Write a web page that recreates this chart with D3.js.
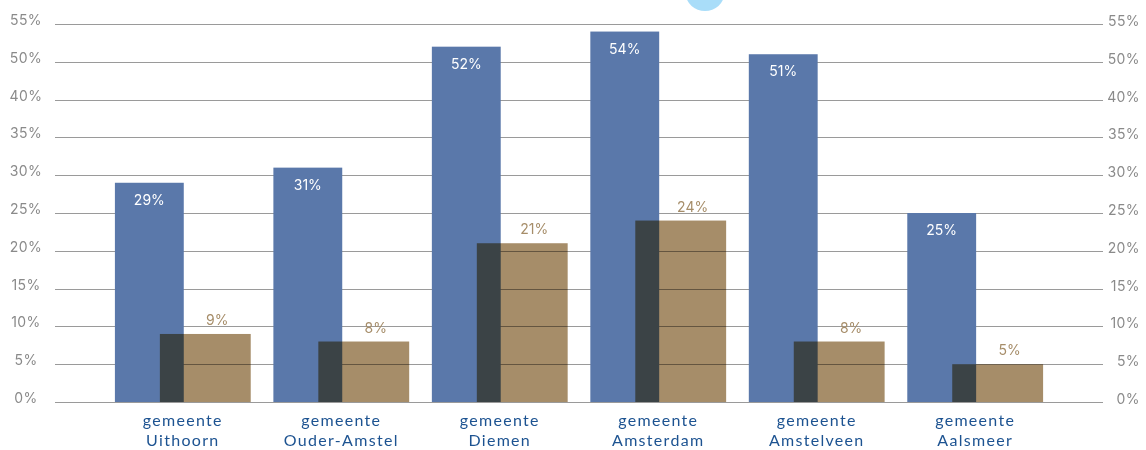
<!DOCTYPE html>
<html>
<head>
<meta charset="utf-8">
<script src="https://cdn.jsdelivr.net/npm/d3@7"></script>
<style>
  body { margin: 0; background: #fff; }
  svg { display: block; }
</style>
</head>
<body>
<div id="chart"></div>
<script>
// data
const places = ['Uithoorn', 'Ouder-Amstel', 'Diemen', 'Amsterdam', 'Amstelveen', 'Aalsmeer'];
const blueValues = [29, 31, 52, 54, 51, 25];
const tanValues = [9, 8, 21, 24, 8, 5];
const tickValues = [0, 5, 10, 15, 20, 25, 30, 35, 40, 50, 55];

const W = 1146, H = 450;
const space = { top: 24, right: 43, bottom: 48, left: 55 };
const w = W - space.left - space.right,
  h = H - space.top - space.bottom;

const numFont = 'Inter, "DejaVu Sans", sans-serif';

const svg = d3.select('#chart')
  .append('svg')
  .attr('width', W)
  .attr('height', H);

// decorative blob at the top
svg.append('ellipse')
  .attr('cx', 705)
  .attr('cy', -6)
  .attr('rx', 19)
  .attr('ry', 17)
  .style('fill', '#a9ddf9');

const g = svg.append('g')
  .attr('transform', `translate(${space.left}, ${space.top})`);

// x: one band per municipality
const x = d3.scaleBand()
  .domain(places)
  .range([0, w])
  .paddingInner(0.143)
  .paddingOuter(0.378);

// y: the axis skips 45%, so the scale is piecewise
const y = d3.scaleLinear()
  .domain([0, 40, 50, 55])
  .range([h, h * 0.2, h * 0.1, 0]);

// gridlines
g.append('g')
  .selectAll('line')
  .data(tickValues)
  .join('line')
  .attr('x1', 0)
  .attr('x2', w)
  .attr('y1', d => Math.round(y(d)) + 0.5)
  .attr('y2', d => Math.round(y(d)) + 0.5)
  .style('stroke', '#9a9a9a')
  .style('stroke-width', 1);

// axis labels left and right
const axisText = (sel) => sel
  .style('font-family', numFont)
  .style('font-size', '14px')
  .style('font-weight', 400)
  .style('fill', '#8a8a8a')
  .style('letter-spacing', '0.4px');

g.append('g')
  .selectAll('text')
  .data(tickValues)
  .join('text')
  .attr('x', -29)
  .attr('y', d => y(d) - 4)
  .attr('dy', '0.35em')
  .attr('text-anchor', 'middle')
  .text(d => d + '%')
  .call(axisText);

g.append('g')
  .selectAll('text')
  .data(tickValues)
  .join('text')
  .attr('x', w + 37)
  .attr('y', d => y(d) - 3)
  .attr('dy', '0.35em')
  .attr('text-anchor', 'end')
  .text(d => d + '%')
  .call(axisText);

const rows = places.map((p, i) => ({ place: p, blue: blueValues[i], tan: tanValues[i] }));
const bw = x.bandwidth();
const blueW = bw * 0.507,
  tanX = bw * 0.331;

// blue bars
g.append('g')
  .selectAll('rect')
  .data(rows)
  .join('rect')
  .attr('x', d => x(d.place))
  .attr('y', d => y(d.blue))
  .attr('width', blueW)
  .attr('height', d => h - y(d.blue))
  .style('fill', '#5a78aa');

// tan bars, multiplied over the blue
g.append('g')
  .selectAll('rect')
  .data(rows)
  .join('rect')
  .attr('x', d => x(d.place) + tanX)
  .attr('y', d => y(d.tan))
  .attr('width', bw - tanX)
  .attr('height', d => h - y(d.tan))
  .style('fill', '#a68d69')
  .style('mix-blend-mode', 'multiply');

// value labels
g.append('g')
  .selectAll('text')
  .data(rows)
  .join('text')
  .attr('x', d => x(d.place) + blueW / 2)
  .attr('y', d => y(d.blue) + 22)
  .attr('text-anchor', 'middle')
  .text(d => d.blue + '%')
  .style('font-family', numFont)
  .style('font-size', '14px')
  .style('fill', '#ffffff');

g.append('g')
  .selectAll('text')
  .data(rows)
  .join('text')
  .attr('x', d => x(d.place) + (blueW + bw) / 2)
  .attr('y', d => y(d.tan) - 9)
  .attr('text-anchor', 'middle')
  .text(d => d.tan + '%')
  .style('font-family', numFont)
  .style('font-size', '14px')
  .style('fill', '#a68d69');

// category labels, two lines each
const catText = (sel) => sel
  .attr('text-anchor', 'middle')
  .style('font-family', 'Lato, "Open Sans", sans-serif')
  .style('font-size', '16px')
  .style('letter-spacing', '1.3px')
  .style('fill', '#1d5391');

g.append('g')
  .selectAll('text')
  .data(places)
  .join('text')
  .attr('x', d => x(d) + bw / 2)
  .attr('y', h + 24)
  .text('gemeente')
  .call(catText);

g.append('g')
  .selectAll('text')
  .data(places)
  .join('text')
  .attr('x', d => x(d) + bw / 2)
  .attr('y', h + 43.5)
  .text(d => d)
  .call(catText);
</script>
</body>
</html>
